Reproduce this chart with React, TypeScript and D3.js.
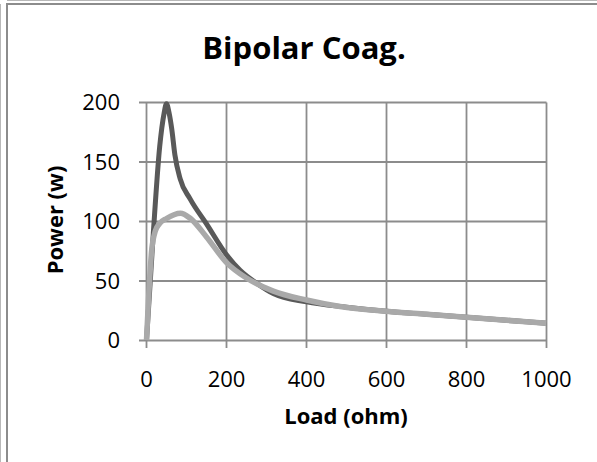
import React from "react";
import * as d3 from "d3";

const title = "Bipolar Coag.";
const xTitle = "Load (ohm)";
const yTitle = "Power (w)";
const xTicks = [0, 200, 400, 600, 800, 1000];
const yTicks = [0, 50, 100, 150, 200];

// Series 1 (dark)
const darkLoad = [0, 17, 33, 44, 50, 56, 63, 71, 84, 109, 150, 200, 234, 276, 317, 400, 500, 600, 700, 800, 900, 1000];
const darkPower = [0, 90, 163, 191, 199, 192, 178, 156, 136, 119, 98, 72, 59, 48, 39.5, 32.5, 28, 24.5, 22, 19.5, 17, 14.5];

// Series 2 (light)
const lightLoad = [0, 13, 22, 32, 50, 85, 110, 150, 200, 250, 317, 400, 484, 600, 700, 800, 900, 1000];
const lightPower = [0, 76, 92, 98, 102.5, 107, 102.5, 87, 65.5, 52.5, 41.5, 34, 28.5, 24.5, 22, 19.5, 17, 14.5];

const W = 597;
const H = 462;
const FONT = "'Open Sans', 'Noto Sans', sans-serif";

export default function App() {
  const x = d3.scaleLinear().domain([0, 1000]).range([146.5, 546.5]);
  const y = d3.scaleLinear().domain([0, 200]).range([340.5, 102.5]);

  const line = d3
    .line<[number, number]>()
    .x((d) => x(d[0]))
    .y((d) => y(d[1]))
    .curve(d3.curveMonotoneX);

  const darkPts = darkLoad.map((l, i) => [l, darkPower[i]] as [number, number]);
  const lightPts = lightLoad.map((l, i) => [l, lightPower[i]] as [number, number]);

  const grid = "#8c8c8c";

  return (
    <div style={{ position: "fixed", left: 0, top: 0 }}>
      <svg width={W} height={H} style={{ display: "block", background: "#fff" }}>
        <rect x={0} y={0} width={W} height={H} fill="#fff" />
        {/* outer frame (left & top) */}
        <line x1={0.5} y1={4} x2={0.5} y2={H} stroke="#b8b8b8" strokeWidth={1} />
        <line x1={7} y1={3} x2={7} y2={H} stroke="#8c8c8c" strokeWidth={2} />
        <line x1={7} y1={0.5} x2={W} y2={0.5} stroke="#b8b8b8" strokeWidth={1} />
        <line x1={6} y1={4} x2={W} y2={4} stroke="#8c8c8c" strokeWidth={1.8} />

        {/* title */}
        <text x={304} y={58.5} textAnchor="middle" fontFamily={FONT} fontWeight={700} fontSize={31} fill="#000">
          {title}
        </text>

        {/* horizontal gridlines + y ticks */}
        {yTicks.map((t) => (
          <g key={"y" + t}>
            <line x1={139} x2={x(1000)} y1={y(t)} y2={y(t)} stroke={grid} strokeWidth={1.8} />
            <text x={120} y={y(t) + 7.8} textAnchor="end" fontFamily={FONT} fontSize={22} fill="#000">
              {t}
            </text>
          </g>
        ))}

        {/* vertical gridlines + x ticks */}
        {xTicks.map((t) => (
          <g key={"x" + t}>
            <line x1={x(t)} x2={x(t)} y1={y(200)} y2={348} stroke={grid} strokeWidth={1.8} />
            <text x={x(t)} y={386.5} textAnchor="middle" fontFamily={FONT} fontSize={22} fill="#000">
              {t}
            </text>
          </g>
        ))}

        {/* axis titles */}
        <text x={346} y={424} textAnchor="middle" fontFamily={FONT} fontWeight={700} fontSize={22} fill="#000">
          {xTitle}
        </text>
        <text
          transform={`translate(62.5,220) rotate(-90)`}
          textAnchor="middle"
          fontFamily={FONT}
          fontWeight={700}
          fontSize={22}
          fill="#000"
        >
          {yTitle}
        </text>

        {/* series */}
        <path d={line(darkPts) || ""} fill="none" stroke="#595959" strokeWidth={5} strokeLinejoin="round" />
        <path d={line(lightPts) || ""} fill="none" stroke="#a9a9a9" strokeWidth={5.5} strokeLinejoin="round" />
      </svg>
    </div>
  );
}
